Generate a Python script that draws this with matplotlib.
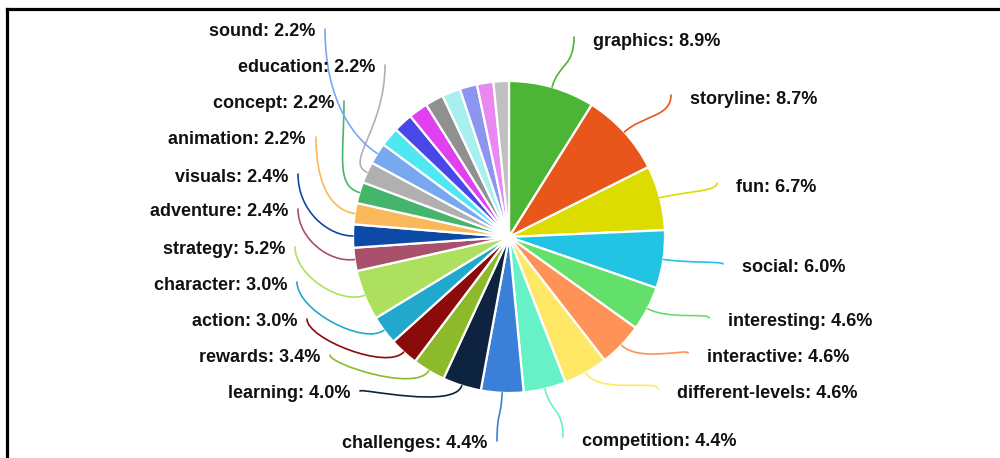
import numpy as np
import matplotlib
matplotlib.use("Agg")
import matplotlib.pyplot as plt
from matplotlib.path import Path
from matplotlib.patches import PathPatch
from matplotlib.lines import Line2D

# ---- data -------------------------------------------------------------
categories = [
    "graphics", "storyline", "fun", "social", "interesting", "interactive",
    "different-levels", "competition", "challenges", "learning", "rewards",
    "action", "character", "strategy", "adventure", "visuals", "animation",
    "concept", "education", "sound",
    None, None, None, None, None, None, None, None,
]
values = [
    8.9, 8.7, 6.7, 6.0, 4.6, 4.6,
    4.6, 4.4, 4.4, 4.0, 3.4,
    3.0, 3.0, 5.2, 2.4, 2.4, 2.2,
    2.2, 2.2, 2.2,
    2.0, 2.0, 2.0, 1.9, 1.9, 1.8, 1.7, 1.6,
]
colors = [
    "#4cb535", "#e9561b", "#dcdc00", "#22c3e3", "#62e06b", "#ff9256",
    "#ffe866", "#66f2c6", "#3a80d9", "#0e2340", "#8cba2a",
    "#8b0a0a", "#22a8cc", "#aee060", "#a9506a", "#0d4aa8", "#f9b95a",
    "#45b56e", "#b0b0b0", "#78a8f0",
    "#50e8f0", "#4848e8", "#e040f0", "#909090", "#a8f0f0", "#8c96f0",
    "#e888f0", "#c0c0c0",
]

# ---- label layout (pixel coordinates, y measured from the top) ----------
# (anchor x, centre y, side) ; left labels are right-aligned
label_layout = {
    "graphics":         (593, 41, "r"),
    "storyline":        (690, 99, "r"),
    "fun":              (736, 187, "r"),
    "social":           (742, 268, "r"),
    "interesting":      (728, 322, "r"),
    "interactive":      (707, 357, "r"),
    "different-levels": (677, 393, "r"),
    "competition":      (582, 441, "r"),
    "challenges":       (487, 444, "l"),
    "learning":         (350, 394, "l"),
    "rewards":          (320, 358, "l"),
    "action":           (297, 322, "l"),
    "character":        (287, 285, "l"),
    "strategy":         (285, 250, "l"),
    "adventure":        (288, 212, "l"),
    "visuals":          (288, 177, "l"),
    "animation":        (306, 140, "l"),
    "concept":          (334, 104, "l"),
    "education":        (375, 68, "l"),
    "sound":            (315, 32, "l"),
}

W, H = 1000, 458
cx, cy, R = 509, H - 237, 156

fig = plt.figure(figsize=(W / 100, H / 100), dpi=100)
fig.patch.set_facecolor("white")
ax = fig.add_axes([0, 0, 1, 1])

wedges, _ = ax.pie(
    values, colors=colors, startangle=90, counterclock=False,
    radius=R, center=(cx, cy),
    wedgeprops=dict(edgecolor="white", linewidth=1.6),
)
ax.set_xlim(0, W)
ax.set_ylim(0, H)
ax.set_aspect("equal")
ax.axis("off")

font = dict(family=["Liberation Sans", "DejaVu Sans"], fontweight="bold",
            fontsize=13, color="#111111")

for w, name, val, col in zip(wedges, categories, values, colors):
    if name is None:
        continue
    lx, ly, side = label_layout[name]
    ly = H - ly
    text = f"{name}: {val:.1f}%"
    ha = "left" if side == "r" else "right"
    ax.text(lx, ly, text, ha=ha, va="center", **font)

    # leader line: from next to the label to the outer rim of the wedge
    mid = np.deg2rad((w.theta1 + w.theta2) / 2)
    ux, uy = np.cos(mid), np.sin(mid)
    p3 = (cx + R * ux, cy + R * uy)
    p2 = (cx + (R + 25) * ux, cy + (R + 25) * uy)
    if side == "r":
        p0 = (lx - 19, ly + 4)
    else:
        p0 = (lx + 10, ly + 3)
    p1 = (p0[0], p0[1] + 0.6 * (p3[1] - p0[1]))
    path = Path([p0, p1, p2, p3],
                [Path.MOVETO, Path.CURVE4, Path.CURVE4, Path.CURVE4])
    ax.add_patch(PathPatch(path, facecolor="none", edgecolor=col,
                           linewidth=1.2, capstyle="round"))

# frame running off the right and bottom edges
fig.add_artist(Line2D([6.5 / W, 1.0], [1 - 9 / H, 1 - 9 / H],
                      transform=fig.transFigure, color="black", lw=2.3,
                      solid_capstyle="projecting"))
fig.add_artist(Line2D([6.5 / W, 6.5 / W], [1 - 9 / H, 0.0],
                      transform=fig.transFigure, color="black", lw=2.3,
                      solid_capstyle="projecting"))

fig.savefig("out.png", dpi=100, facecolor="white")
